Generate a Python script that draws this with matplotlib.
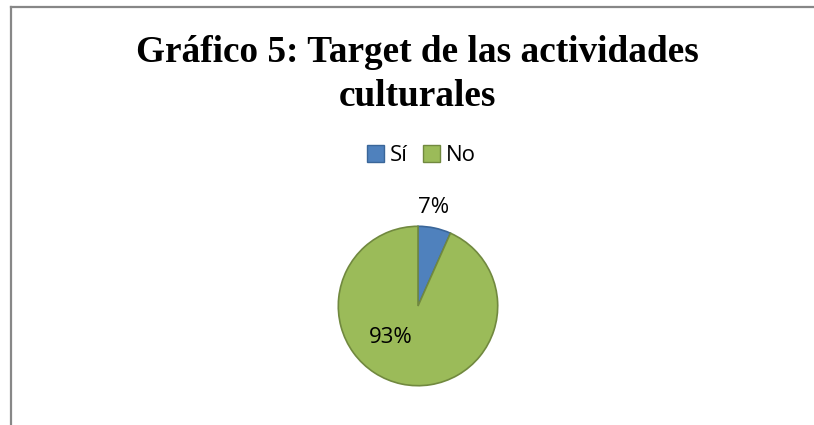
import matplotlib.pyplot as plt
from matplotlib.lines import Line2D
from matplotlib.patches import Patch

# data
categories = ['Sí', 'No']
counts = [2, 28]
pct_labels = ['7%', '93%']
colors = ['#4F81BD', '#9BBB59']
edges = ['#3A6699', '#71893F']

title_lines = ['Gráfico 5: Target de las actividades', 'culturales']

W, H = 814, 425
fig = plt.figure(figsize=(W / 100, H / 100), dpi=100)

# frame lines (left and top only visible)
fig.add_artist(Line2D([10.5 / W, 10.5 / W], [0, 1 - 6.5 / H],
                      color='#878787', lw=1.6, transform=fig.transFigure))
fig.add_artist(Line2D([10.5 / W, 1], [1 - 6.5 / H, 1 - 6.5 / H],
                      color='#878787', lw=1.6, transform=fig.transFigure))

# two-line title, baselines at 62 and 106 px from top
for line, y in zip(title_lines, [62, 106]):
    fig.text(417 / W, 1 - y / H, line, ha='center', va='baseline',
             fontsize=26.8, fontweight='bold', family='Liberation Serif')

ax = fig.add_axes([(418 - 80.5) / W, (H - 386.5) / H, 161 / W, 161 / H])
wedges, _ = ax.pie(counts, colors=colors, startangle=90, counterclock=False,
                   radius=1, wedgeprops=dict(linewidth=1.2))
for w, e in zip(wedges, edges):
    w.set_edgecolor(e)
ax.set_xlim(-1.01, 1.01)
ax.set_ylim(-1.01, 1.01)
ax.set_aspect('equal')
ax.axis('off')

# percentage labels
ax.text(0.2, 1.24, pct_labels[0], ha='center', va='center', fontsize=16,
        family='Open Sans')
ax.text(-0.34, -0.39, pct_labels[1], ha='center', va='center', fontsize=16,
        family='Open Sans')

handles = [Patch(facecolor=c, edgecolor=e, label=l)
           for c, e, l in zip(colors, edges, categories)]
fig.legend(handles=handles, loc='center', bbox_to_anchor=(421.5 / W, 1 - 155.5 / H),
           ncol=2, frameon=False, handlelength=0.77, handleheight=0.77,
           handletextpad=0.27, columnspacing=0.68, borderpad=0, borderaxespad=0,
           prop={'family': 'Open Sans', 'size': 16})

fig.savefig('out.png', dpi=100)
